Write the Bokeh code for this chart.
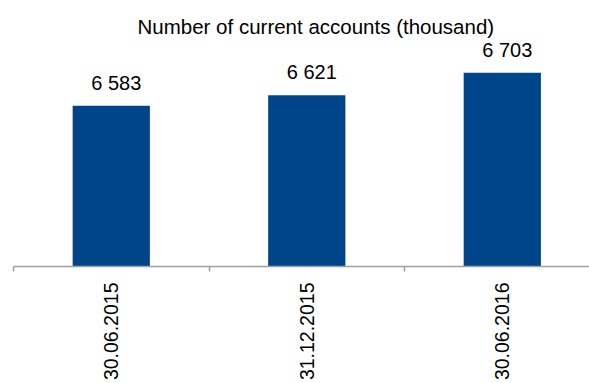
import math
from bokeh.plotting import figure
from bokeh.models import ColumnDataSource, FixedTicker
from bokeh.core.properties import value
from bokeh.embed import file_html
from bokeh.resources import INLINE

categories = ["30.06.2015", "31.12.2015", "30.06.2016"]
values = [6583, 6621, 6703]
value_labels = ["6 583", "6 621", "6 703"]

x_pos = [i + 0.5 for i in range(len(categories))]
base = 6000

src = ColumnDataSource(dict(x=x_pos, top=values, bottom=[base] * len(values), lab=value_labels))

p = figure(width=589, height=383, output_backend="svg", toolbar_location=None,
           x_range=(0, 2.946), y_range=(base, 6820),
           min_border_left=13, min_border_right=0, min_border_top=40, min_border_bottom=115,
           title="Number of current accounts (thousand)")
p.title.text_font = "Liberation Sans"
p.title.text_font_size = "20.5px"
p.title.text_font_style = "normal"
p.title.text_color = "#000000"
p.title.align = "left"
p.title.offset = 124
p.title.standoff = 5

p.vbar(x="x", top="top", bottom="bottom", width=0.395, source=src,
       fill_color="#004489", line_color=None)
p.text(x="x", y="top", text="lab", source=src, x_offset=5, y_offset=-23,
       text_align="center", text_baseline="alphabetic",
       text_font=value("Liberation Sans"), text_font_size="20px", text_color="#000000")

p.yaxis.visible = False
p.xgrid.visible = False
p.ygrid.visible = False
p.outline_line_color = None
p.background_fill_color = "white"
p.border_fill_color = "white"

ax = p.xaxis[0]
ax.ticker = FixedTicker(ticks=x_pos, minor_ticks=list(range(len(categories) + 1)))
ax.major_label_overrides = {x: c for x, c in zip(x_pos, categories)}
ax.major_label_orientation = math.pi / 2
ax.major_tick_line_color = None
ax.major_tick_out = 0
ax.major_tick_in = 0
ax.minor_tick_line_color = "#a0a0a0"
ax.minor_tick_out = 5
ax.minor_tick_in = 0
ax.axis_line_color = "#a0a0a0"
ax.axis_line_width = 1.5
ax.minor_tick_line_width = 1.5
ax.major_label_standoff = 11
ax.major_label_text_font = "Liberation Sans"
ax.major_label_text_font_size = "19.5px"
ax.major_label_text_color = "#000000"

open("out.html", "w").write(file_html(p, INLINE))
